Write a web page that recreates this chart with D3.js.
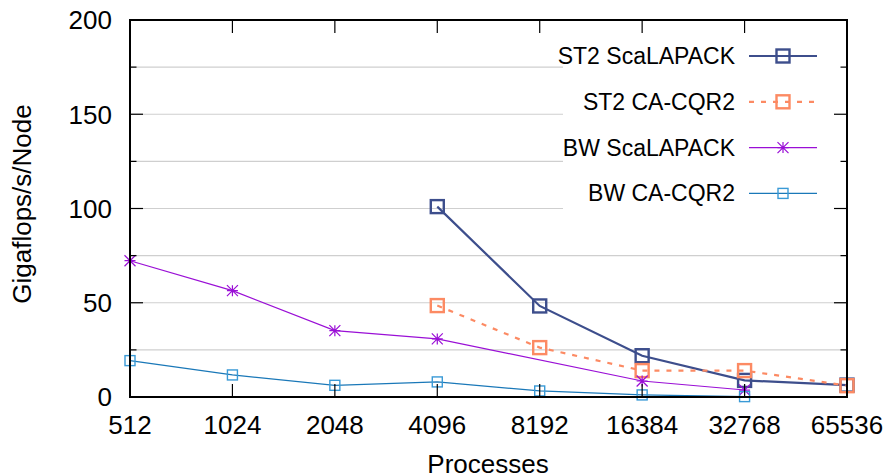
<!DOCTYPE html>
<html>
<head>
<meta charset="utf-8">
<script src="https://cdn.jsdelivr.net/npm/d3@7"></script>
<style>
  body { margin: 0; background: #fff; }
  text { font-family: "Liberation Sans", Arial, sans-serif; fill: #000; }
</style>
</head>
<body>
<svg id="chart" width="887" height="476"></svg>
<script>
// data
const processes = [512, 1024, 2048, 4096, 8192, 16384, 32768, 65536];
const yTicks = [0, 50, 100, 150, 200];

const st2Scalapack = [[4096, 101], [8192, 48.3], [16384, 21.9], [32768, 8.8], [65536, 6.3]];
const st2Cacqr2 = [[4096, 48.5], [8192, 26.2], [16384, 14], [32768, 14], [65536, 6]];
const bwScalapack = [[512, 72.3], [1024, 56.4], [2048, 35.2], [4096, 30.8], [16384, 8.5], [32768, 3.7]];
const bwCacqr2 = [[512, 19.3], [1024, 11.7], [2048, 6.2], [4096, 8], [8192, 3.2], [16384, 1.1], [32768, 0.2]];

const seriesNames = ['ST2 ScaLAPACK', 'ST2 CA-CQR2', 'BW ScaLAPACK', 'BW CA-CQR2'];

const series = [
    { name: seriesNames[0], data: st2Scalapack, color: '#3d4e8c', width: 2.2, dash: null, marker: 'square', size: 13, mstroke: 2.4 },
    { name: seriesNames[1], data: st2Cacqr2, color: '#fc8a63', width: 2.2, dash: '5,7', marker: 'square', size: 13, mstroke: 2.4 },
    { name: seriesNames[2], data: bwScalapack, color: '#9a0fd6', width: 1.2, dash: null, marker: 'star', size: 11, mstroke: 1.2 },
    { name: seriesNames[3], data: bwCacqr2, color: '#1a78b8', width: 1.2, dash: null, marker: 'square', size: 10, mstroke: 1.4, mcolor: '#3a9ad6' }
];

const svg = d3.select('#chart');
const plotL = 130, plotR = 847, plotT = 20, plotB = 397;

const x = d3.scaleLog().base(2).domain([512, 65536]).range([plotL, plotR]);
const y = d3.scaleLinear().domain([0, 200]).range([plotB, plotT]);

// gridlines every 25
const gridVals = d3.range(25, 200, 25);
svg.append('g')
    .selectAll('line')
    .data(gridVals)
    .enter()
    .append('line')
    .attr('x1', plotL).attr('x2', plotR)
    .attr('y1', d => y(d)).attr('y2', d => y(d))
    .attr('stroke', '#cfcfcf')
    .attr('stroke-width', 1.2);

// lines + markers
const line = d3.line().x(d => x(d[0])).y(d => y(d[1]));

function drawMarker(g, type, cx, cy, s, color, sw) {
    if (type === 'square') {
        g.append('rect')
            .attr('x', cx - s / 2).attr('y', cy - s / 2)
            .attr('width', s).attr('height', s)
            .attr('fill', 'none')
            .attr('stroke', color)
            .attr('stroke-width', sw);
    } else {
        const r = s / 2;
        const p = `M${cx - r},${cy}H${cx + r}M${cx},${cy - r}V${cy + r}` +
            `M${cx - r},${cy - r}L${cx + r},${cy + r}M${cx - r},${cy + r}L${cx + r},${cy - r}`;
        g.append('path').attr('d', p).attr('stroke', color).attr('stroke-width', sw).attr('fill', 'none');
    }
}

series.forEach(s => {
    const g = svg.append('g');
    g.append('path')
        .datum(s.data)
        .attr('d', line)
        .attr('fill', 'none')
        .attr('stroke', s.color)
        .attr('stroke-width', s.width)
        .attr('stroke-dasharray', s.dash);
    s.data.forEach(d => drawMarker(g, s.marker, x(d[0]), y(d[1]), s.size, s.mcolor || s.color, s.mstroke));
});

// legend with white box over gridlines
const legend = svg.append('g');
legend.append('rect')
    .attr('x', 563).attr('y', plotT + 1)
    .attr('width', plotR - 563 - 1).attr('height', 195)
    .attr('fill', '#fff');
series.forEach((s, i) => {
    const ly = 56 + i * 45.8;
    legend.append('text')
        .attr('x', 735).attr('y', ly)
        .attr('dy', '0.35em')
        .attr('text-anchor', 'end')
        .style('font-size', '23px')
        .text(s.name);
    legend.append('line')
        .attr('x1', 749).attr('x2', 817)
        .attr('y1', ly).attr('y2', ly)
        .attr('stroke', s.color)
        .attr('stroke-width', s.width)
        .attr('stroke-dasharray', s.dash);
    drawMarker(legend, s.marker, 783, ly, s.size, s.mcolor || s.color, s.mstroke);
});

// axes: ticks inward on all four sides
const minorVals = d3.range(25, 200, 50);
const ticks = svg.append('g').attr('stroke', '#000').attr('stroke-width', 1.2);
yTicks.forEach(v => {
    ticks.append('line').attr('x1', plotL).attr('x2', plotL + 13).attr('y1', y(v)).attr('y2', y(v));
    ticks.append('line').attr('x1', plotR).attr('x2', plotR - 13).attr('y1', y(v)).attr('y2', y(v));
});
minorVals.forEach(v => {
    ticks.append('line').attr('x1', plotL).attr('x2', plotL + 6.5).attr('y1', y(v)).attr('y2', y(v));
    ticks.append('line').attr('x1', plotR).attr('x2', plotR - 6.5).attr('y1', y(v)).attr('y2', y(v));
});
processes.forEach(v => {
    ticks.append('line').attr('x1', x(v)).attr('x2', x(v)).attr('y1', plotB).attr('y2', plotB - 13);
    ticks.append('line').attr('x1', x(v)).attr('x2', x(v)).attr('y1', plotT).attr('y2', plotT + 13);
});

// frame
svg.append('rect')
    .attr('x', plotL).attr('y', plotT)
    .attr('width', plotR - plotL).attr('height', plotB - plotT)
    .attr('fill', 'none')
    .attr('stroke', '#000')
    .attr('stroke-width', 2);

// tick labels
svg.append('g')
    .selectAll('text')
    .data(yTicks)
    .enter()
    .append('text')
    .attr('x', 112).attr('y', d => y(d))
    .attr('dy', '0.36em')
    .attr('text-anchor', 'end')
    .style('font-size', '26px')
    .text(d => d);

svg.append('g')
    .selectAll('text')
    .data(processes)
    .enter()
    .append('text')
    .attr('x', d => x(d)).attr('y', 434)
    .attr('text-anchor', 'middle')
    .style('font-size', '26px')
    .text(d => d);

// axis titles
svg.append('text')
    .attr('x', 488).attr('y', 473)
    .attr('text-anchor', 'middle')
    .style('font-size', '26px')
    .text('Processes');

svg.append('text')
    .attr('transform', 'translate(31,204) rotate(-90)')
    .attr('text-anchor', 'middle')
    .style('font-size', '26px')
    .text('Gigaflops/s/Node');
</script>
</body>
</html>
